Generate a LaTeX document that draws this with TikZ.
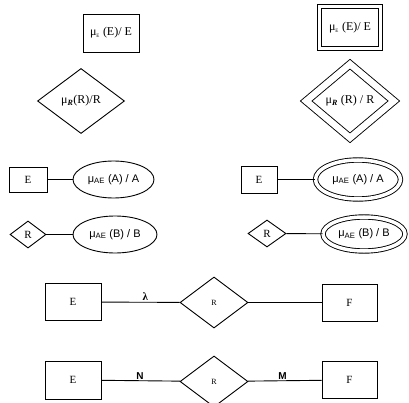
\documentclass[tikz,border=0pt]{standalone}
\usepackage{fontspec}
\setmainfont{Liberation Serif}
\newfontfamily\attrfont{Liberation Sans}
\usetikzlibrary{shapes.geometric}

\tikzset{
	entity/.style={shape=rectangle, draw=black, line width=0.9pt, inner sep=0pt},
	relation/.style={shape=diamond, draw=black, line width=0.9pt, inner sep=0pt},
	attrib/.style={shape=ellipse, draw=black, line width=0.9pt, inner sep=0pt, font=\attrfont\fontsize{11}{13}\selectfont},
	weak/.style={double, double distance=3.5pt},
	link/.style={line width=0.9pt}
}

\begin{document}
\begin{tikzpicture}[x=1pt, y=-1pt, font=\fontsize{11}{13}\selectfont]
	\useasboundingbox (0,0) rectangle (409,403);

	% fuzzy entity and relationship
	\draw (111,33) node[entity, minimum width=56pt, minimum height=38pt, font=\fontsize{12}{14}\selectfont](fe){μ\textsubscript{\tiny E} (E)/ E};
	\draw (81,101) node[relation, minimum width=87pt, minimum height=65pt, font=\fontsize{12}{14}\selectfont](fr){μ\textsubscript{\textbf{\textit{R}}}(R)/R};

	% weak versions
	\draw (350,27.5) node[entity, weak, minimum width=61pt, minimum height=42pt, font=\fontsize{12}{14}\selectfont](we){μ\textsubscript{\tiny E} (E)/ E};
	\draw (350,101) node[relation, double, double distance=6.4pt, minimum width=88pt, minimum height=74pt, font=\fontsize{12}{14}\selectfont](wr){μ\textsubscript{\textbf{\textit{R}}} (R) / R};

	% attributes
	\draw (28,179.5) node[entity, minimum width=38pt, minimum height=25pt](e1){E};
	\draw (113.5,179.5) node[attrib, minimum width=81pt, minimum height=37pt](a1){μ\textsubscript{AE} (A) / A};
	\draw (28,234.5) node[relation, minimum width=36pt, minimum height=27pt](r1){R};
	\draw (115,234.5) node[attrib, minimum width=84pt, minimum height=37pt](b1){μ\textsubscript{AE} (B) / B};

	\draw (259,179.5) node[entity, minimum width=36pt, minimum height=27pt](e2){E};
	\draw (358,179.5) node[attrib, weak, minimum width=85pt, minimum height=39pt](a2){μ\textsubscript{AE} (A) / A};
	\draw (267,233.5) node[relation, minimum width=38pt, minimum height=27pt](r2){R};
	\draw (364,234) node[attrib, weak, minimum width=82pt, minimum height=34pt](b2){μ\textsubscript{AE} (B) / B};

	\draw [link](e1) -- (a1);
	\draw [link](r1) -- (b1);
	\draw [link](e2) -- (a2);
	\draw [link](r2) -- (b2);

	% relationships between E and F
	\draw (73,302) node[entity, minimum width=56pt, minimum height=37pt](e3){E};
	\draw (214,302.5) node[relation, minimum width=68pt, minimum height=51pt, font=\fontsize{8}{10}\selectfont](r3){R};
	\draw (349.5,302.5) node[entity, minimum width=55pt, minimum height=37pt](f3){F};

	\draw (73,380) node[entity, minimum width=56pt, minimum height=38pt](e4){E};
	\draw (214,381.5) node[relation, minimum width=68pt, minimum height=51pt, font=\fontsize{8}{10}\selectfont](r4){R};
	\draw (349.5,380) node[entity, minimum width=55pt, minimum height=37pt](f4){F};

	\draw [link](e3) -- node[above, pos=0.56, inner sep=1pt]{\textbf{λ}} (r3);
	\draw [link](r3) -- (f3);
	\draw [link](e4) -- node[above, pos=0.49, inner sep=1pt, font=\attrfont\bfseries\fontsize{10}{12}\selectfont]{N} (r4);
	\draw [link](r4) -- node[above, pos=0.47, inner sep=1pt, font=\attrfont\bfseries\fontsize{10}{12}\selectfont]{M} (f4);
\end{tikzpicture}
\end{document}
